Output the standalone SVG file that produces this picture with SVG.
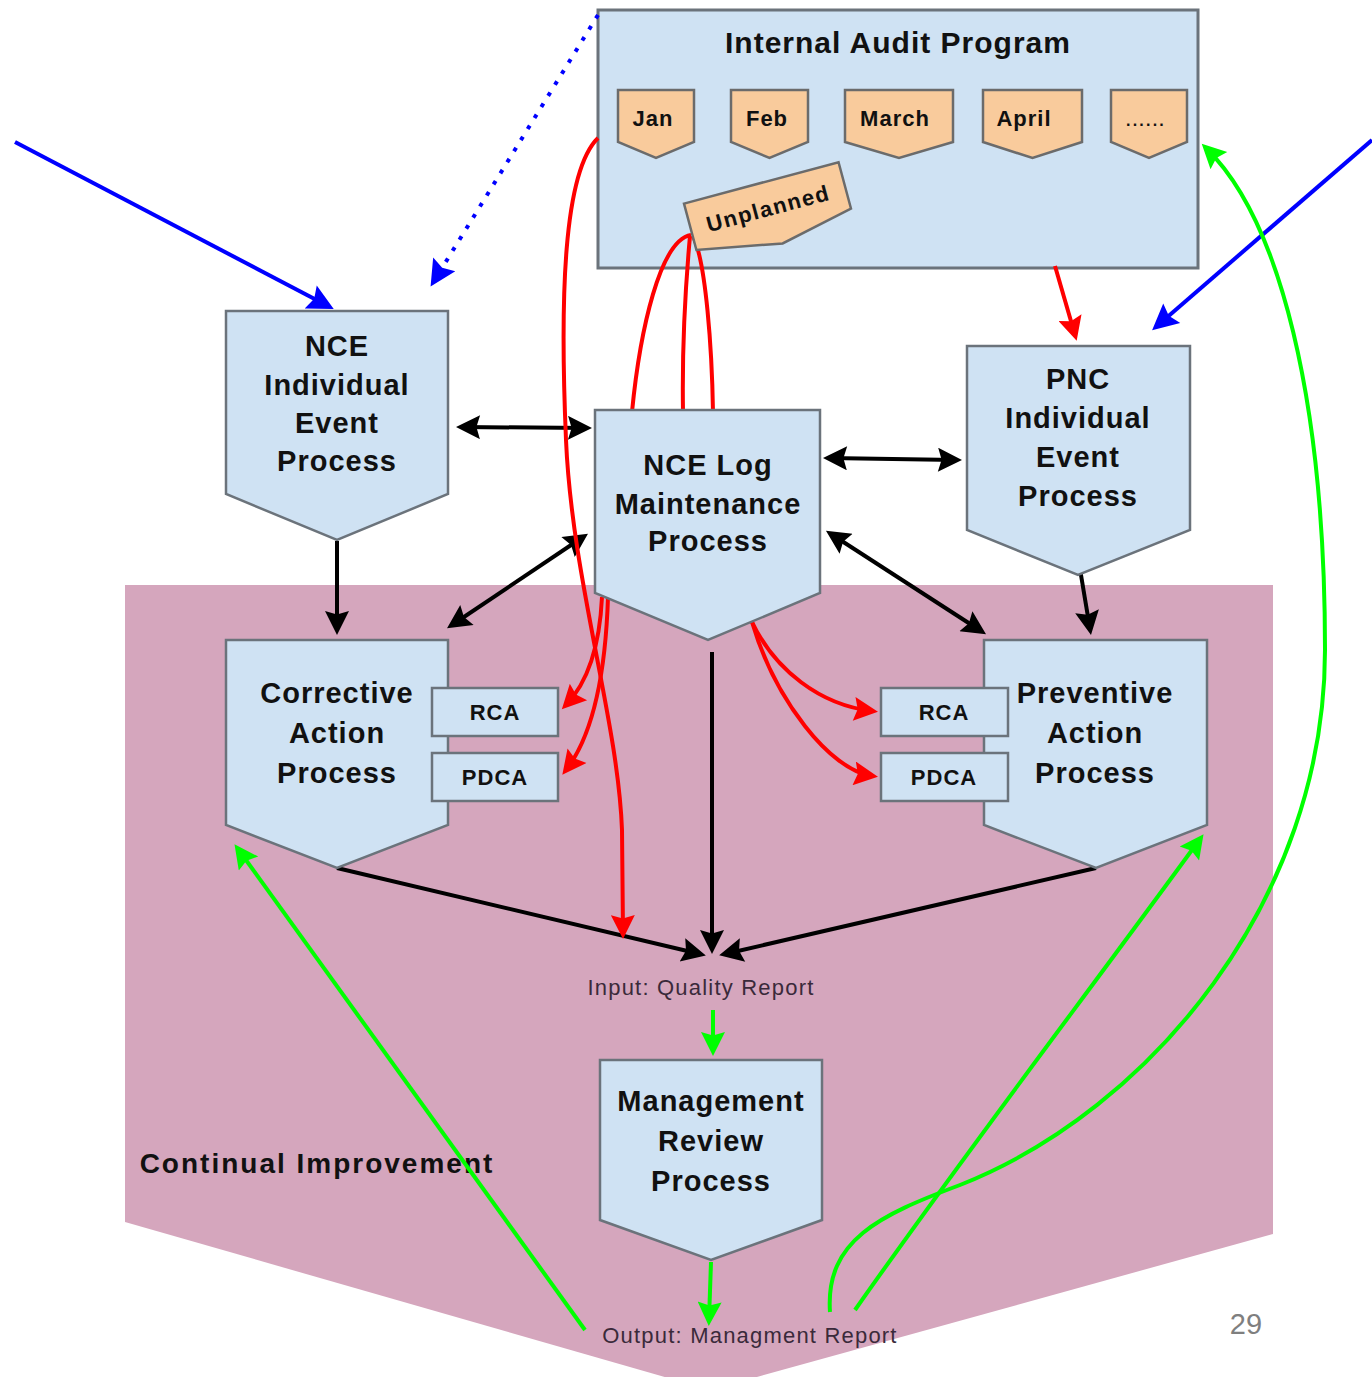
<svg xmlns="http://www.w3.org/2000/svg" width="1372" height="1377" viewBox="0 0 1372 1377">
  <defs>
    <style>
      .proc { fill: #cfe2f3; stroke: #6b737b; stroke-width: 2.5; }
      .tag { fill: #f9cb9c; stroke: #6b6b6b; stroke-width: 2.5; }
      .lbl { font-family: "Liberation Sans", Arial, sans-serif; font-weight: bold; fill: #111; text-anchor: middle; }
      .big { font-size: 29px; letter-spacing: 1px; }
      .mid { font-size: 22px; letter-spacing: 1px; }
      .note { font-family: "Liberation Sans", Arial, sans-serif; font-size: 22px; letter-spacing: 1.2px; fill: #3a2a3a; text-anchor: middle; }
      .k { fill: none; stroke: #000; stroke-width: 4; }
      .r { fill: none; stroke: #ff0000; stroke-width: 4; }
      .b { fill: none; stroke: #0000ff; stroke-width: 4; }
      .g { fill: none; stroke: #00ff00; stroke-width: 4; }
    </style>
    <marker id="ak" viewBox="0 0 20 20" refX="15" refY="10" markerWidth="28" markerHeight="24" markerUnits="userSpaceOnUse" orient="auto-start-reverse">
      <path d="M0,0 L20,10 L0,20 L3,10 Z" fill="#000"/>
    </marker>
    <marker id="ar" viewBox="0 0 20 20" refX="15" refY="10" markerWidth="28" markerHeight="24" markerUnits="userSpaceOnUse" orient="auto-start-reverse">
      <path d="M0,0 L20,10 L0,20 L3,10 Z" fill="#ff0000"/>
    </marker>
    <marker id="ab" viewBox="0 0 20 20" refX="15" refY="10" markerWidth="30" markerHeight="26" markerUnits="userSpaceOnUse" orient="auto-start-reverse">
      <path d="M0,0 L20,10 L0,20 L3,10 Z" fill="#0000ff"/>
    </marker>
    <marker id="ag" viewBox="0 0 20 20" refX="15" refY="10" markerWidth="28" markerHeight="24" markerUnits="userSpaceOnUse" orient="auto-start-reverse">
      <path d="M0,0 L20,10 L0,20 L3,10 Z" fill="#00ff00"/>
    </marker>
  </defs>

  <rect width="1372" height="1377" fill="#ffffff"/>

  <!-- Continual improvement zone -->
  <g id="continual-improvement">
    <polygon points="125,585 1273,585 1273,1234 710,1390 125,1222" fill="#d5a6bd"/>
    <text x="317" y="1173" class="lbl" style="font-size:28px;letter-spacing:2px">Continual Improvement</text>
  </g>

  <!-- Internal audit program container -->
  <g id="internal-audit-program">
    <rect x="598" y="10" width="600" height="258" fill="#cfe2f3" stroke="#6b737b" stroke-width="3"/>
    <text x="898" y="53" class="lbl" style="font-size:30px;letter-spacing:1px">Internal Audit Program</text>
  </g>

  <!-- Connectors -->
  <g id="connectors">
    <!-- external inputs -->
    <line class="b" x1="15" y1="142" x2="328" y2="306" marker-end="url(#ab)"/>
    <line class="b" x1="1372" y1="140" x2="1157" y2="326" marker-end="url(#ab)"/>
    <line class="b" x1="598" y1="15" x2="434" y2="281" stroke-dasharray="4 9" marker-end="url(#ab)"/>

    <!-- black process flow -->
    <line class="k" x1="462" y1="427" x2="586" y2="428" marker-start="url(#ak)" marker-end="url(#ak)"/>
    <line class="k" x1="829" y1="458" x2="956" y2="460" marker-start="url(#ak)" marker-end="url(#ak)"/>
    <line class="k" x1="337" y1="541" x2="337" y2="629" marker-end="url(#ak)"/>
    <line class="k" x1="583" y1="537" x2="452" y2="625" marker-start="url(#ak)" marker-end="url(#ak)"/>
    <line class="k" x1="831" y1="534" x2="981" y2="631" marker-start="url(#ak)" marker-end="url(#ak)"/>
    <line class="k" x1="1079" y1="563" x2="1090" y2="629" marker-end="url(#ak)"/>
    <line class="k" x1="337" y1="868" x2="700" y2="954" marker-end="url(#ak)"/>
    <line class="k" x1="712" y1="652" x2="712" y2="948" marker-end="url(#ak)"/>
    <line class="k" x1="1096" y1="868" x2="725" y2="954" marker-end="url(#ak)"/>

    <!-- red audit findings -->
    <line class="r" x1="1055" y1="266" x2="1075" y2="335" marker-end="url(#ar)"/>
    <path class="r" d="M598,138 C 563,172 560,300 566,440 C 572,580 618,720 622,830 L 623,933" marker-end="url(#ar)"/>
    <path class="r" d="M691,235 C 660,240 640,330 632,412" stroke-width="5"/>
    <path class="r" d="M690,236 C 686,280 682,350 683,412" stroke-width="3.5"/>
    <path class="r" d="M693,236 C 706,262 712,350 713,412" stroke-width="3.5"/>
    <path class="r" d="M602,597 C 600,640 590,680 566,705" marker-end="url(#ar)"/>
    <path class="r" d="M608,597 C 606,660 597,730 566,770" marker-end="url(#ar)"/>
    <path class="r" d="M752,622 C 775,670 820,705 872,711" marker-end="url(#ar)"/>
    <path class="r" d="M752,622 C 775,700 830,770 872,776" marker-end="url(#ar)"/>

    <!-- green review loop -->
    <line class="g" x1="713" y1="1010" x2="713" y2="1050" marker-end="url(#ag)"/>
    <line class="g" x1="711" y1="1262" x2="709" y2="1320" marker-end="url(#ag)"/>
    <line class="g" x1="585" y1="1330" x2="238" y2="849" marker-end="url(#ag)"/>
    <path class="g" d="M855,1310 C 960,1160 1090,990 1200,839" marker-end="url(#ag)"/>
    <path class="g" d="M830,1312 C 825,1240 880,1215 960,1185 C 1150,1110 1325,900 1325,650 C 1325,400 1280,220 1206,148" marker-end="url(#ag)"/>
  </g>

  <!-- Audit months -->
  <g id="month-jan">
    <path class="tag" d="M618,90 H694 V142 L656,158 L618,142 Z"/>
    <text x="653" y="126" class="lbl mid">Jan</text>
  </g>
  <g id="month-feb">
    <path class="tag" d="M731,90 H808 V142 L769.5,158 L731,142 Z"/>
    <text x="767" y="126" class="lbl mid">Feb</text>
  </g>
  <g id="month-march">
    <path class="tag" d="M845,90 H953 V142 L899,158 L845,142 Z"/>
    <text x="895" y="126" class="lbl mid">March</text>
  </g>
  <g id="month-april">
    <path class="tag" d="M983,90 H1082 V142 L1032.5,158 L983,142 Z"/>
    <text x="1024" y="126" class="lbl mid">April</text>
  </g>
  <g id="month-more">
    <path class="tag" d="M1111,90 H1187 V142 L1149,158 L1111,142 Z"/>
    <text x="1146" y="126" class="lbl" style="font-size:16px;letter-spacing:2.2px">......</text>
  </g>
  <g id="unplanned" transform="translate(768,208) rotate(-15)">
    <path class="tag" d="M-80,-26 H80 V22 L5,38 L-80,22 Z"/>
    <text x="0" y="8" class="lbl" style="font-size:22px;letter-spacing:1.5px">Unplanned</text>
  </g>

  <!-- Process nodes -->
  <g id="nce-individual-event">
    <path class="proc" d="M226,311 H448 V494 L337,540 L226,494 Z"/>
    <text class="lbl big" x="337" y="356">NCE</text>
    <text class="lbl big" x="337" y="395">Individual</text>
    <text class="lbl big" x="337" y="433">Event</text>
    <text class="lbl big" x="337" y="471">Process</text>
  </g>
  <g id="nce-log-maintenance">
    <path class="proc" d="M595,410 H820 V593 L708,640 L595,593 Z"/>
    <text class="lbl big" x="708" y="475">NCE Log</text>
    <text class="lbl big" x="708" y="514">Maintenance</text>
    <text class="lbl big" x="708" y="551">Process</text>
  </g>
  <g id="pnc-individual-event">
    <path class="proc" d="M967,346 H1190 V530 L1078,575 L967,530 Z"/>
    <text class="lbl big" x="1078" y="389">PNC</text>
    <text class="lbl big" x="1078" y="428">Individual</text>
    <text class="lbl big" x="1078" y="467">Event</text>
    <text class="lbl big" x="1078" y="506">Process</text>
  </g>
  <g id="corrective-action">
    <path class="proc" d="M226,640 H448 V825 L337,868 L226,825 Z"/>
    <text class="lbl big" x="337" y="703">Corrective</text>
    <text class="lbl big" x="337" y="743">Action</text>
    <text class="lbl big" x="337" y="783">Process</text>
  </g>
  <g id="corrective-rca">
    <rect class="proc" x="432" y="688" width="126" height="48"/>
    <text class="lbl mid" x="495" y="720">RCA</text>
  </g>
  <g id="corrective-pdca">
    <rect class="proc" x="432" y="753" width="126" height="48"/>
    <text class="lbl mid" x="495" y="785">PDCA</text>
  </g>
  <g id="preventive-action">
    <path class="proc" d="M984,640 H1207 V825 L1096,868 L984,825 Z"/>
    <text class="lbl big" x="1095" y="703">Preventive</text>
    <text class="lbl big" x="1095" y="743">Action</text>
    <text class="lbl big" x="1095" y="783">Process</text>
  </g>
  <g id="preventive-rca">
    <rect class="proc" x="881" y="688" width="127" height="48"/>
    <text class="lbl mid" x="944" y="720">RCA</text>
  </g>
  <g id="preventive-pdca">
    <rect class="proc" x="881" y="753" width="127" height="48"/>
    <text class="lbl mid" x="944" y="785">PDCA</text>
  </g>
  <g id="management-review">
    <path class="proc" d="M600,1060 H822 V1220 L711,1260 L600,1220 Z"/>
    <text class="lbl big" x="711" y="1111">Management</text>
    <text class="lbl big" x="711" y="1151">Review</text>
    <text class="lbl big" x="711" y="1191">Process</text>
  </g>

  <!-- Report labels -->
  <g id="input-quality-report">
    <text class="note" x="701" y="995">Input: Quality Report</text>
  </g>
  <g id="output-management-report">
    <text class="note" x="750" y="1343">Output: Managment Report</text>
  </g>

  <text x="1246" y="1334" font-family="'Liberation Sans', Arial, sans-serif" font-size="29" fill="#7f7f7f" text-anchor="middle">29</text>
</svg>
